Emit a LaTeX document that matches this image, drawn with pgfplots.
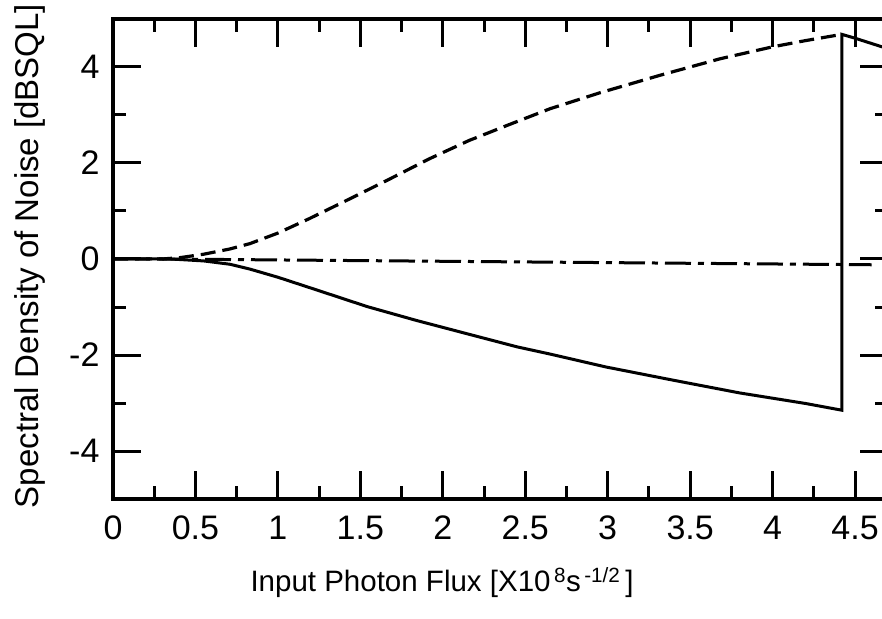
\documentclass[border=0pt]{standalone}
\usepackage{fontspec}
\setmainfont{Liberation Sans}
\usepackage{pgfplots}
\pgfplotsset{compat=1.18}

% Squeezed / anti-squeezed / coherent noise spectra vs input photon flux
\pgfplotstableread{
x     y
0     0
0.30  0
0.41  0.03
0.55  0.10
0.71  0.21
0.83  0.32
1.00  0.54
1.19  0.84
1.44  1.26
1.68  1.67
1.92  2.09
2.16  2.47
2.41  2.81
2.65  3.13
2.95  3.46
3.32  3.83
3.68  4.17
4.00  4.42
4.20  4.55
4.42  4.68
}\antisqueezed

\pgfplotstableread{
x     y
0     0
0.35  0
0.55  -0.04
0.71  -0.11
0.83  -0.21
1.00  -0.38
1.24  -0.65
1.54  -0.99
1.84  -1.28
2.15  -1.56
2.45  -1.83
2.65  -1.98
2.99  -2.25
3.39  -2.52
3.80  -2.79
4.20  -3.01
4.42  -3.15
4.42  4.68
4.50  4.60
4.70  4.38
}\squeezed

\pgfplotstableread{
x     y
0     0
0.30  0
4.60  -0.12
}\coherent

\begin{document}
\begin{tikzpicture}[x=1pt,y=1pt]
\begin{axis}[
  at={(113pt,119pt)}, anchor=south west,
  scale only axis, width=775pt, height=480pt,
  xmin=0, xmax=4.7, ymin=-5, ymax=5,
  xtick={0,0.5,1,1.5,2,2.5,3,3.5,4,4.5},
  minor xtick={0.25,0.75,1.25,1.75,2.25,2.75,3.25,3.75,4.25,4.75},
  ytick={-4,-2,0,2,4},
  minor ytick={-5,-3,-1,1,3,5},
  tick align=inside,
  major tick length=28pt, minor tick length=13pt,
  axis line style={line width=3.5pt},
  every tick/.style={line width=3pt, black},
  /pgf/number format/assume math mode=true,
  tick label style={font=\fontsize{34}{34}\selectfont},
  xticklabel style={anchor=north, text height=24pt, text depth=0pt, yshift=-13pt},
  yticklabel style={xshift=-10pt},
  every axis x label/.style={at={(rel axis cs:0.4245,0)}, anchor=center,
    yshift=-84pt, font=\fontsize{29.5}{29.5}\selectfont},
  every axis y label/.style={at={(rel axis cs:0,0.5)}, xshift=-83pt, yshift=3pt,
    rotate=90, anchor=center, font=\fontsize{33}{33}\selectfont},
  xlabel={Input Photon Flux [X10\textsuperscript{\,8}s\textsuperscript{\,-1/2}\,]},
  ylabel={Spectral Density of Noise [dBSQL]},
]
\addplot[black, line width=3.2pt, dash pattern=on 15pt off 7pt] table[x=x,y=y] {\antisqueezed};
\addplot[black, line width=3pt] table[x=x,y=y] {\squeezed};
\addplot[black, line width=3pt, dash pattern=on 26pt off 7pt on 6pt off 7pt] table[x=x,y=y] {\coherent};
\end{axis}
\pgfresetboundingbox
\path[use as bounding box] (0,0) rectangle (882,618);
\end{tikzpicture}
\end{document}
